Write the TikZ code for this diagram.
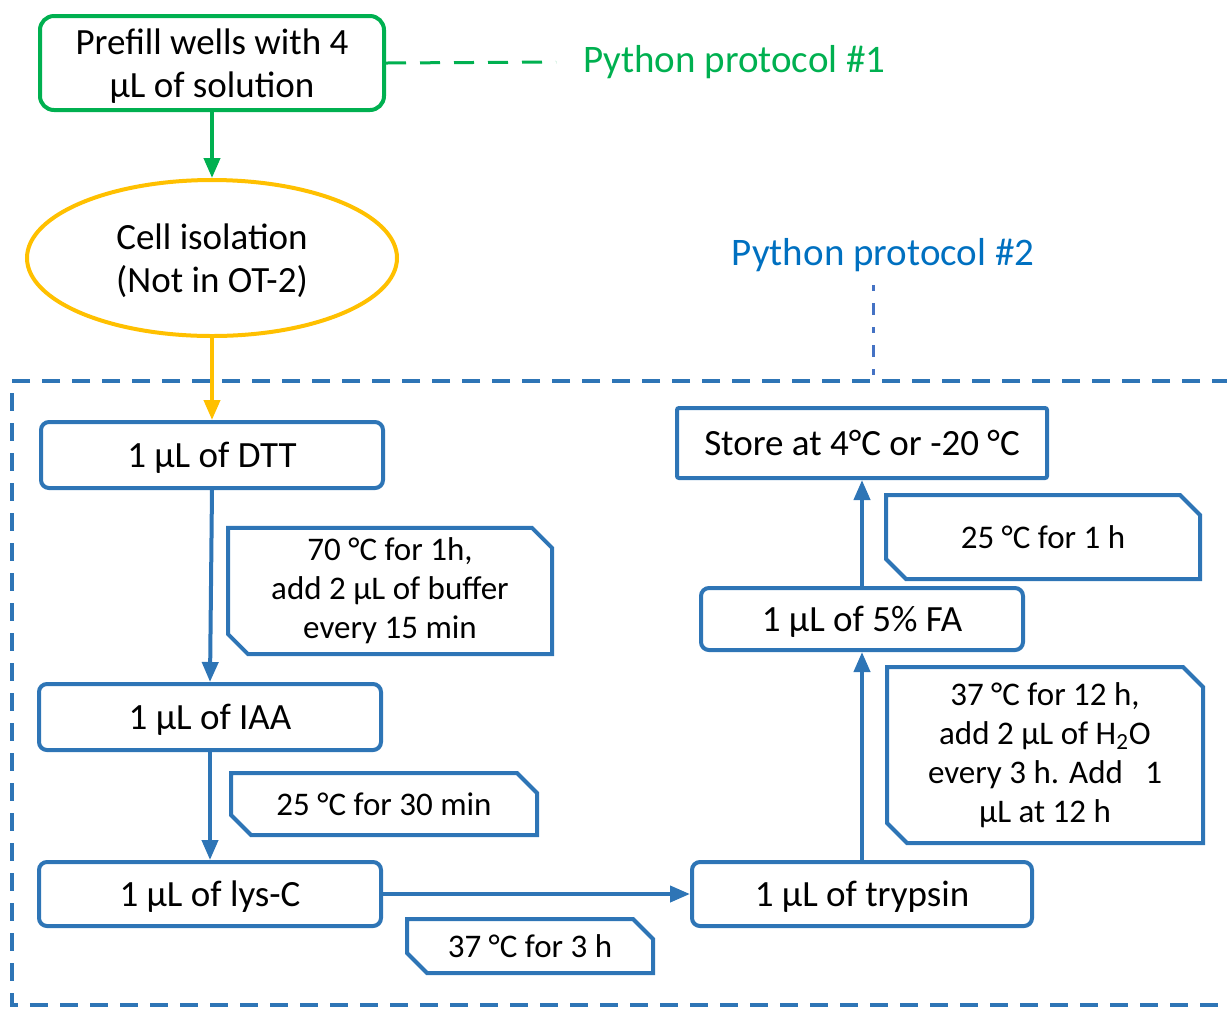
\documentclass[tikz,border=0pt]{standalone}
\usepackage{fontspec}
\setmainfont{Carlito}
\usetikzlibrary{arrows.meta, shapes.misc, shapes.geometric}
\definecolor{pgreen}{HTML}{00B050}
\definecolor{porange}{HTML}{FFC000}
\definecolor{pblue}{HTML}{2E75B6}
\definecolor{ptext}{HTML}{0070C0}
\definecolor{plink}{HTML}{4472C4}

\tikzset{
  stepbox/.style={draw=pblue, line width=2pt, rounded corners=4pt,
    minimum width=171pt, minimum height=33pt, inner sep=2pt, text depth=0pt,
    font=\fontsize{18.5}{21.5}\selectfont},
  note/.style={chamfered rectangle, chamfered rectangle corners={north east, south west},
    chamfered rectangle xsep=5pt, chamfered rectangle ysep=5pt,
    draw=pblue, line width=2pt, inner sep=0pt, align=center,
    font=\fontsize{16.5}{19.5}\selectfont},
  flow/.style={draw=pblue, line width=2pt, -{Triangle[length=10pt,width=8pt]}},
  tag/.style={font=\fontsize{19.5}{21}\selectfont}
}

\begin{document}
\begin{tikzpicture}[x=0.5pt, y=-0.5pt]
\useasboundingbox (0,0) rectangle (1227,1009);
\clip (0,0) rectangle (1227,1009);

% protocol 1
\node[draw=pgreen, line width=2pt, rounded corners=7pt, minimum width=172pt,
  minimum height=47pt, align=center, inner sep=0pt, text depth=0pt,
  font=\fontsize{18.5}{21.5}\selectfont]
  (prefill) at (212,63) {Prefill wells with 4\\µL of solution};
\node[tag, text=pgreen, anchor=west] (py1) at (576,62) {Python protocol \#1};
\draw[pgreen, line width=1.5pt, dash pattern=on 10pt off 7pt]
  (prefill.east) -- ([xshift=-10pt]py1.west);

\node[ellipse, draw=porange, line width=2pt, minimum width=185pt, minimum height=78pt,
  align=center, inner sep=0pt, text depth=0pt, font=\fontsize{18.5}{21.5}\selectfont]
  (iso) at (212,258) {Cell isolation\\(Not in OT-2)};
\draw[pgreen, line width=2pt, -{Triangle[length=10pt,width=8pt]}] (prefill.south) -- (iso.north);

% protocol 2
\node[tag, text=ptext] (py2) at (883,255) {Python protocol \#2};
\coordinate (frame) at (873,381);
\draw[pblue, line width=1.6pt, dash pattern=on 9pt off 6pt]
  (1260,381) -- (12,381) -- (12,1005) -- (1260,1005);
\draw[plink, line width=1.5pt, dash pattern=on 3pt off 6pt on 6pt off 6pt] (873,285) -- (frame);

\node[stepbox] (dtt) at (212,455) {1 µL of DTT};
\node[stepbox] (iaa) at (210,717) {1 µL of IAA};
\node[stepbox, minimum height=32pt] (lysc) at (210,894) {1 µL of lys-C};
\node[stepbox, minimum width=170pt, minimum height=32pt] (tryp) at (862,894) {1 µL of trypsin};
\node[stepbox, minimum width=161pt, minimum height=31pt] (fa) at (862,619) {1 µL of 5\% FA};
\node[stepbox, rounded corners=1pt, minimum width=185pt, minimum height=35pt]
  (store) at (862,443) {Store at 4°C or -20 °C};

\draw[porange, line width=2pt, -{Triangle[length=10pt,width=8pt]}] (iso.south) -- (dtt.north);
\draw[flow] (dtt.south) -- (iaa.north);
\draw[flow] (iaa.south) -- (lysc.north);
\draw[flow] (lysc.east) -- (tryp.west);
\draw[flow] (tryp.north) -- (fa.south);
\draw[flow] (fa.north) -- (store.south);

% conditions
\node[note, minimum width=162pt, minimum height=60pt] (n1) at (390,591)
  {70 °C for 1h,\\add 2 µL of buffer\\every 15 min};
\node[note, minimum width=153pt, minimum height=31pt] (n2) at (384,804) {25 °C for 30 min};
\node[note, minimum width=123pt, minimum height=27pt] (n3) at (530,946) {37 °C for 3 h};
\node[note, minimum width=158pt, minimum height=88pt] (n4) at (1045,755)
  {37 °C for 12 h,\\ add 2 µL of H\textsubscript{2}O\\every 3 h. Add \ \ 1\\µL at 12 h};
\node[note, minimum width=157pt, minimum height=42pt] (n5) at (1043,537) {25 °C for 1 h};
\end{tikzpicture}
\end{document}
